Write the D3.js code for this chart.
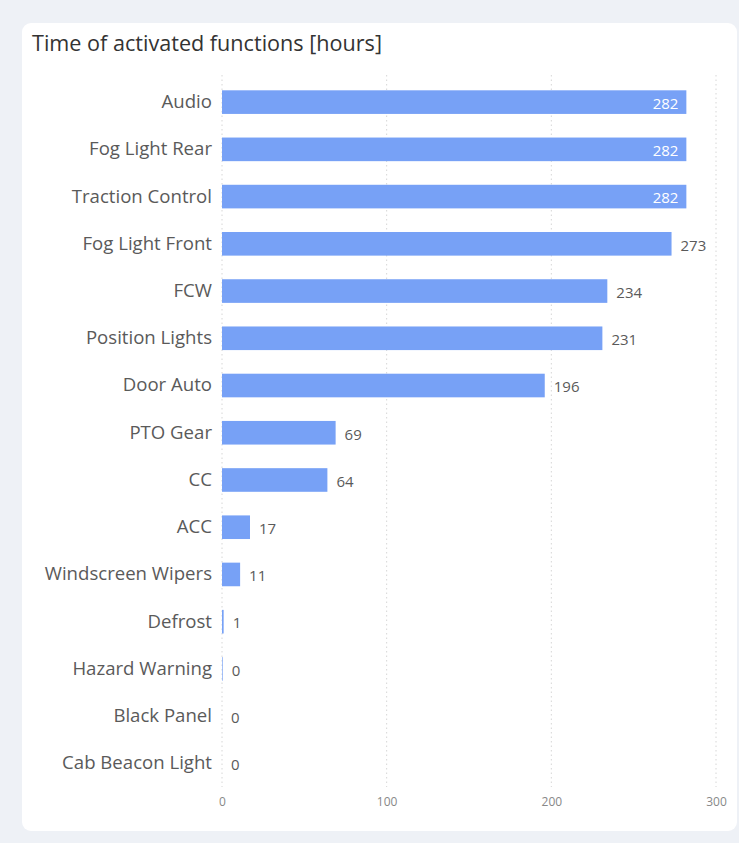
<!DOCTYPE html>
<html>
<head>
<meta charset="utf-8">
<script src="https://cdn.jsdelivr.net/npm/d3@7"></script>
<style>
  html, body { margin: 0; padding: 0; background: #eef1f6; }
  svg { display: block; font-family: "Open Sans", "Noto Sans", sans-serif; }
</style>
</head>
<body>
<svg id="chart" width="739" height="843"></svg>
<script>
'use strict';

// data
const categories = [
  'Audio', 'Fog Light Rear', 'Traction Control', 'Fog Light Front', 'FCW',
  'Position Lights', 'Door Auto', 'PTO Gear', 'CC', 'ACC',
  'Windscreen Wipers', 'Defrost', 'Hazard Warning', 'Black Panel', 'Cab Beacon Light'
];
const hours = [282, 282, 282, 273, 234, 231, 196, 69, 64, 17, 11, 1, 0.4, 0, 0];
const xTicks = [0, 100, 200, 300];

const BAR_COLOR = '#77a1f6';
const LABEL_PAD = 9;
const FONT = '"Open Sans", "Noto Sans", sans-serif';

const svg = d3.select('#chart');

// card
svg.append('rect').attr('x', 22).attr('y', 23)
  .attr('width', 715).attr('height', 808)
  .attr('rx', 9).attr('fill', '#ffffff');

svg.append('text')
  .attr('x', 32).attr('y', 51)
  .attr('font-size', 21.6).attr('fill', '#333')
  .text('Time of activated functions [hours]');

const x = d3.scaleLinear().domain([0, 300]).range([222, 716]);
const y = d3.scaleBand().domain(categories).range([78.5, 787]).paddingInner(0.5).paddingOuter(0.25);

// dotted grid lines
svg.append('g').selectAll('line').data(xTicks).join('line')
  .attr('x1', d => x(d)).attr('x2', d => x(d))
  .attr('y1', 75).attr('y2', 787)
  .attr('stroke', '#d6d6d6').attr('stroke-dasharray', '1.5,3');

// x axis labels
const xAxis = d3.axisBottom(x).tickValues(xTicks).tickSize(0).tickPadding(0);
const gx = svg.append('g').attr('transform', 'translate(0,797)').call(xAxis);
gx.select('.domain').remove();
gx.selectAll('text')
  .attr('font-family', FONT)
  .attr('font-size', 12).attr('fill', '#888').attr('dy', '0.71em');

// category labels
const yAxis = d3.axisLeft(y).tickSize(0).tickPadding(0);
const gy = svg.append('g').attr('transform', 'translate(212,0)').call(yAxis);
gy.select('.domain').remove();
gy.selectAll('text')
  .attr('font-family', FONT)
  .attr('font-size', 18.6).attr('fill', '#5a5a5a');

const rows = categories.map((c, i) => ({name: c, value: hours[i]}));

svg.append('g').selectAll('rect').data(rows).join('rect')
  .attr('x', x(0))
  .attr('y', d => y(d.name))
  .attr('width', d => x(d.value) - x(0))
  .attr('height', y.bandwidth())
  .attr('fill', BAR_COLOR);

// value labels, inside the bar when they would run past the plot
svg.append('g').selectAll('text').data(rows).join('text')
  .attr('font-size', 15)
  .attr('dy', '0.35em')
  .attr('y', d => y(d.name) + y.bandwidth() / 2 + 1.5)
  .each(function(d) {
    const inside = x(d.value) + LABEL_PAD + 26 > x(300);
    d3.select(this)
      .attr('x', inside ? x(d.value) - 8 : x(d.value) + LABEL_PAD)
      .attr('text-anchor', inside ? 'end' : 'start')
      .attr('fill', inside ? '#ffffff' : '#5a5a5a');
  })
  .text(d => Math.round(d.value));
</script>
</body>
</html>
